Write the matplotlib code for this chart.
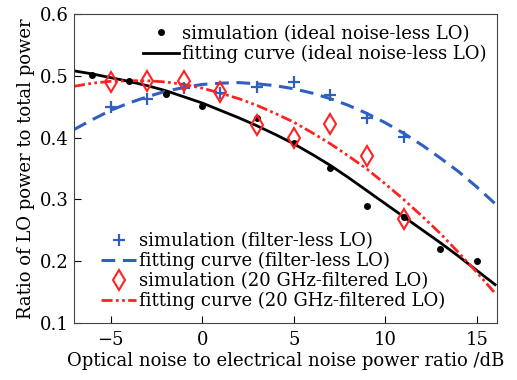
import numpy as np
import matplotlib
matplotlib.use("Agg")
import matplotlib.pyplot as plt

plt.rcParams['font.family'] = ['DejaVu Serif']
plt.rcParams['mathtext.fontset'] = 'dejavuserif'

# simulated points: optical/electrical noise ratio (dB) vs LO power ratio
x_ideal = [-6, -4, -2, 0, 3, 5, 7, 9, 11, 13, 15]
y_ideal = [0.501, 0.492, 0.471, 0.451, 0.432, 0.391, 0.351, 0.290, 0.271, 0.220, 0.200]

x_nofilt = [-5, -3, -1, 1, 3, 5, 7, 9, 11]
y_nofilt = [0.450, 0.462, 0.481, 0.472, 0.482, 0.490, 0.469, 0.431, 0.401]

x_filt = [-5, -3, -1, 1, 3, 5, 7, 9, 11]
y_filt = [0.490, 0.492, 0.492, 0.473, 0.420, 0.400, 0.422, 0.370, 0.268]

# fitted curves, sampled every 1 dB
x_fit = [-7, -6, -5, -4, -3, -2, -1, 0, 1, 2, 3, 4, 5, 6, 7, 8, 9, 10, 11, 12, 13, 14, 15, 16]
fit_ideal = [0.508, 0.503, 0.497, 0.491, 0.484, 0.476, 0.466, 0.456, 0.444, 0.432, 0.419, 0.405,
             0.390, 0.373, 0.355, 0.335, 0.314, 0.293, 0.272, 0.251, 0.230, 0.208, 0.185, 0.162]
fit_nofilt = [0.413, 0.429, 0.444, 0.456, 0.466, 0.475, 0.481, 0.486, 0.488, 0.489, 0.487, 0.484,
              0.479, 0.472, 0.463, 0.452, 0.439, 0.424, 0.407, 0.388, 0.367, 0.345, 0.320, 0.293]
fit_filt = [0.483, 0.488, 0.491, 0.492, 0.492, 0.490, 0.486, 0.480, 0.472, 0.463, 0.452, 0.439,
            0.425, 0.408, 0.390, 0.370, 0.349, 0.325, 0.300, 0.273, 0.245, 0.214, 0.182, 0.148]

blue = '#2f5fc0'
red = '#ff2222'

fig = plt.figure(figsize=(5.17, 3.8), dpi=100)
ax = fig.add_axes([0.1431, 0.15, 0.8182, 0.8132])

h_dot, = ax.plot(x_ideal, y_ideal, 'o', color='black', ms=4, ls='none',
                 label='simulation (ideal noise-less LO)', zorder=5)
h_fit, = ax.plot(x_fit, fit_ideal, '-', color='black', lw=2,
                 label='fitting curve (ideal noise-less LO)')
h_plus, = ax.plot(x_nofilt, y_nofilt, '+', color=blue, ms=9, mew=1.6, ls='none',
                  label='simulation (filter-less LO)', zorder=5)
h_dash, = ax.plot(x_fit, fit_nofilt, color=blue, lw=2.2, ls=(0, (4.5, 2.5)),
                  label='fitting curve (filter-less LO)')
h_dia, = ax.plot(x_filt, y_filt, 'd', color=red, mfc='none', ms=10, mew=1.5, ls='none',
                 label='simulation (20 GHz-filtered LO)', zorder=5)
h_dd, = ax.plot(x_fit, fit_filt, color=red, lw=2, ls=(0, (4, 1.2, 1, 1.2, 1, 1.2)),
                label='fitting curve (20 GHz-filtered LO)')

ax.set_xlim(-7, 16.1)
ax.set_ylim(0.1, 0.6)
ax.set_xticks([-5, 0, 5, 10, 15])
ax.set_xticklabels(['\u22125', '0', '5', '10', '15'])
ax.set_yticks([0.1, 0.2, 0.3, 0.4, 0.5, 0.6])
ax.tick_params(direction='in', length=5, labelsize=13, width=0.8)
ax.tick_params(axis='x', pad=6)
for s in ax.spines.values():
    s.set_linewidth(0.8)
    s.set_color('#444444')

ax.set_xlabel('Optical noise to electrical noise power ratio /dB', fontsize=13, labelpad=2)
ax.set_ylabel('Ratio of LO power to total power', fontsize=13, labelpad=4)

leg1 = ax.legend(handles=[h_dot, h_fit], loc='upper right', bbox_to_anchor=(1.0, 1.0),
                 frameon=False, fontsize=13, handlelength=2.0, handletextpad=0.15,
                 labelspacing=0.1, borderaxespad=0.2)
ax.add_artist(leg1)
ax.legend(handles=[h_plus, h_dash, h_dia, h_dd], loc='lower left', bbox_to_anchor=(0.035, 0.0),
          frameon=False, fontsize=13, handlelength=1.9, handletextpad=0.2,
          labelspacing=0.1, borderaxespad=0.3)

fig.savefig('out.png', dpi=100)
